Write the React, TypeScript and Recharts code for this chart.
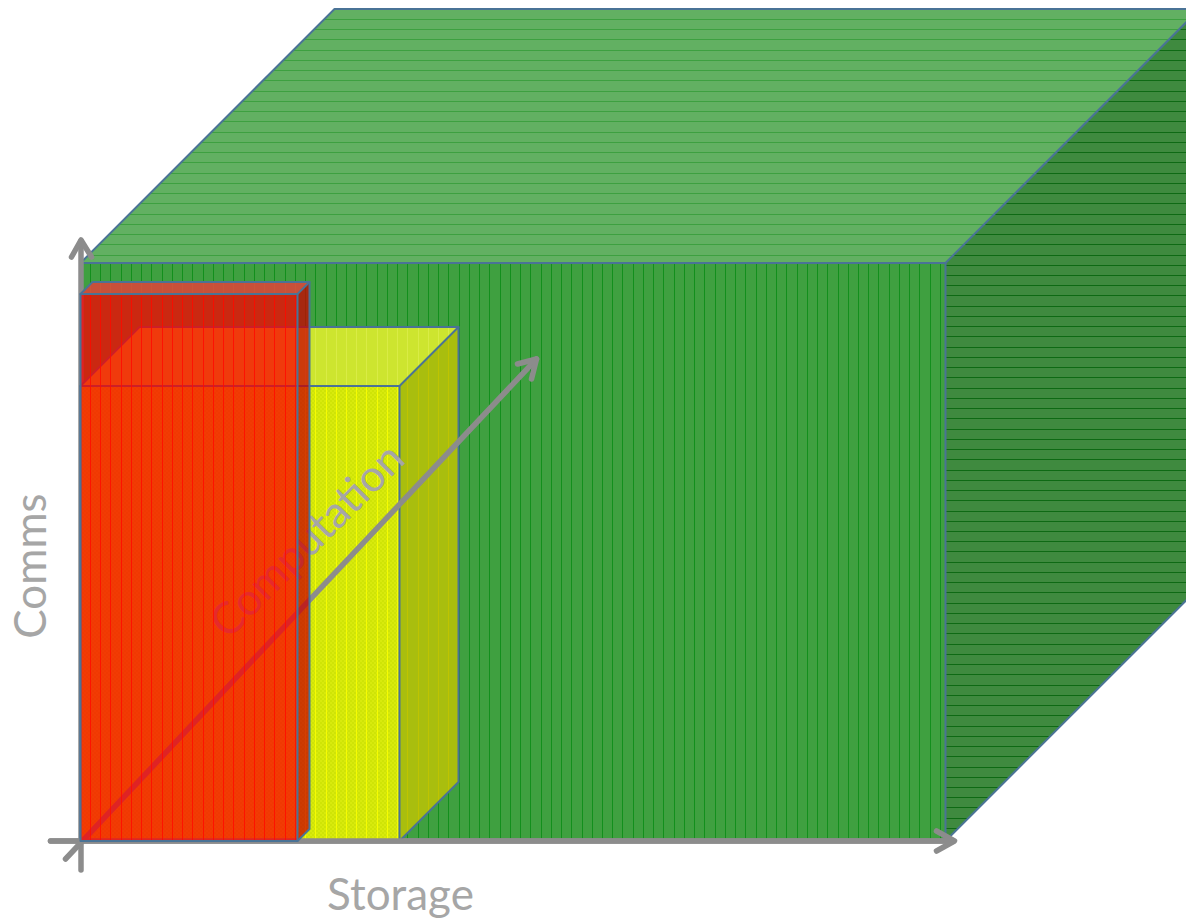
import React from "react";
import { ComposedChart, Area, Line, XAxis, YAxis, ReferenceDot } from "recharts";

// Extent of each resource box along the three axes.
const boxNames = ["ample", "moderate", "scarce"];
const storageValues = [865, 319, 217];
const commsValues = [578, 455, 547];
const computationValues = [254, 59, 12];

// Axis shafts and arrow heads, in the same units as the boxes.
const storageAxis = [{ x: -30, y: 0 }, { x: 872, y: 0 }];
const storageHead = [{ x: 856, y: 10 }, { x: 874, y: 0 }, { x: 856, y: -10 }];
const commsAxis = [{ x: 0.5, y: -29 }, { x: 0.5, y: 600 }];
const commsHead = [{ x: -9, y: 584 }, { x: 0.5, y: 601 }, { x: 11, y: 584 }];
const computationAxis = [{ x: -15, y: -18 }, { x: 456, y: 482 }];
const computationHead = [{ x: 437, y: 477 }, { x: 456, y: 482 }, { x: 451, y: 462 }];

const axisLabels = [
  { text: "Storage", x: 320, y: -53, angle: 0 },
  { text: "Comms", x: -50, y: 275, angle: -90 },
  { text: "Computation", x: 226, y: 301, angle: -45 },
];

const EDGE = "#4A7396";
const AXIS = "#8C8C8C";
const LABEL = "#A6A6A6";
const AXIS_WIDTH = 5.5;

type Skin = { front: string; top: string; side: string; opacity: number };
const skins: Skin[] = [
  { front: "#3FA040", top: "#62B062", side: "#3F8A3F", opacity: 1 },
  { front: "#CFE406", top: "#CDE52F", side: "#A9BE0E", opacity: 1 },
  { front: "#FB0002", top: "#F73538", side: "#CB0000", opacity: 0.75 },
];
const stripeSkins = [
  { front: "gFront", top: "gTop", side: "gSide" },
  { front: "yFront", top: "yTop", side: "ySide" },
  { front: "rFront", top: "rTop", side: null as string | null },
];

const frontFace = (s: number, c: number) => [
  { x: 0, range: [0, c] },
  { x: s, range: [0, c] },
];
const topFace = (s: number, c: number, d: number) => [
  { x: 0, range: [c, c] },
  { x: d, range: [c, c + d] },
  { x: s, range: [c, c + d] },
  { x: s + d, range: [c + d, c + d] },
];
const sideFace = (s: number, c: number, d: number) => [
  { x: s, range: [0, c] },
  { x: s + d, range: [d, c + d] },
];
const outlines = (s: number, c: number, d: number) => [
  [{ x: 0, y: 0 }, { x: s, y: 0 }, { x: s, y: c }, { x: 0, y: c }, { x: 0, y: 0 }],
  [{ x: 0, y: c }, { x: d, y: c + d }, { x: s + d, y: c + d }, { x: s, y: c }],
  [{ x: s + d, y: c + d }, { x: s + d, y: d }, { x: s, y: 0 }],
];

let layer = 1;
const nextLayer = () => layer++;

const faceArea = (key: string, data: object[], fill: string, opacity = 1) => (
  <Area
    key={key}
    data={data}
    dataKey="range"
    type="linear"
    fill={fill}
    fillOpacity={opacity}
    stroke="none"
    dot={false}
    activeDot={false}
    isAnimationActive={false}
    zIndex={nextLayer()}
  />
);

const polyline = (key: string, data: object[], stroke: string, width: number) => (
  <Line
    key={key}
    data={data}
    dataKey="y"
    type="linear"
    stroke={stroke}
    strokeWidth={width}
    strokeLinecap="round"
    strokeLinejoin="round"
    dot={false}
    activeDot={false}
    isAnimationActive={false}
    zIndex={nextLayer()}
  />
);

const drawBox = (i: number) => {
  const s = storageValues[i];
  const c = commsValues[i];
  const d = computationValues[i];
  const skin = skins[i];
  const stripes = stripeSkins[i];
  const name = boxNames[i];
  const items = [
    faceArea(`${name}-top`, topFace(s, c, d), skin.top, skin.opacity),
    faceArea(`${name}-top-lines`, topFace(s, c, d), `url(#${stripes.top})`),
    faceArea(`${name}-side`, sideFace(s, c, d), skin.side, skin.opacity),
    faceArea(`${name}-front`, frontFace(s, c), skin.front, skin.opacity),
  ];
  if (stripes.side) items.push(faceArea(`${name}-side-lines`, sideFace(s, c, d), `url(#${stripes.side})`));
  if (i === 1) items.push(faceArea(`${name}-grain`, frontFace(s, c), "url(#grain)"));
  items.push(faceArea(`${name}-front-lines`, frontFace(s, c), `url(#${stripes.front})`));
  outlines(s, c, d).forEach((pts, k) => items.push(polyline(`${name}-edge-${k}`, pts, EDGE, 2)));
  return items;
};

// Hatch tiles repeat every 50 strokes so each stroke stays on a whole pixel.
const HATCH_TILE = 512;
const HATCH_STEP = 10.24;
const hatchOffsets = Array.from({ length: 50 }, (_, n) => Math.round(n * HATCH_STEP));

const stripeTile = (id: string, vertical: boolean, color: string, opacity: number) => (
  <pattern
    key={id}
    id={id}
    patternUnits="userSpaceOnUse"
    x={vertical ? 90 : 0}
    y={vertical ? 0 : 19}
    width={HATCH_TILE}
    height={HATCH_TILE}
  >
    {hatchOffsets.map((o) =>
      vertical ? (
        <rect key={o} x={o} y={0} width={1} height={HATCH_TILE} fill={color} fillOpacity={opacity} />
      ) : (
        <rect key={o} x={0} y={o} width={HATCH_TILE} height={1} fill={color} fillOpacity={opacity} />
      ),
    )}
  </pattern>
);

const axisLabel = (l: (typeof axisLabels)[number]) => {
  const z = nextLayer();
  return (
    <ReferenceDot
      key={l.text}
      x={l.x}
      y={l.y}
      r={0}
      fill="none"
      stroke="none"
      ifOverflow="visible"
      zIndex={z}
      label={{
        value: l.text,
        position: "center",
        angle: l.angle,
        fill: LABEL,
        fontSize: 44,
        fontFamily: "Lato, 'Open Sans', sans-serif",
        zIndex: z,
      }}
    />
  );
};

export default function App() {
  layer = 1;
  return (
    <div style={{ position: "absolute", left: 0, top: 0, width: 1186, height: 919, background: "#fff" }}>
      <ComposedChart width={1186} height={919} margin={{ top: 0, right: 0, bottom: 0, left: 0 }}>
        <defs>
          {stripeTile("gFront", true, "#128F1C", 1)}
          {stripeTile("gTop", false, "#3DA040", 1)}
          {stripeTile("gSide", false, "#0E6A14", 1)}
          {stripeTile("yFront", true, "#F6FC00", 1)}
          {stripeTile("yTop", true, "#D9EC45", 1)}
          {stripeTile("ySide", true, "#BFC400", 1)}
          {stripeTile("rFront", true, "#FF0A00", 0.85)}
          {stripeTile("rTop", true, "#D86040", 0.5)}
          <pattern id="grain" patternUnits="userSpaceOnUse" width={4} height={4}>
            <rect x={0} y={0} width={2} height={2} fill="#E0EE12" fillOpacity={0.55} />
            <rect x={2} y={2} width={2} height={2} fill="#E0EE12" fillOpacity={0.55} />
          </pattern>
        </defs>
        <XAxis type="number" dataKey="x" domain={[-80.5, 1105.5]} allowDataOverflow hide />
        <YAxis type="number" domain={[-78, 841]} allowDataOverflow hide />

        {drawBox(0)}
        {polyline("storage-axis", storageAxis, AXIS, AXIS_WIDTH)}
        {polyline("storage-head", storageHead, AXIS, AXIS_WIDTH)}
        {polyline("comms-axis", commsAxis, AXIS, AXIS_WIDTH)}
        {polyline("comms-head", commsHead, AXIS, AXIS_WIDTH)}
        {drawBox(1)}
        {polyline("storage-axis-over", storageAxis, AXIS, AXIS_WIDTH)}
        {polyline("computation-axis", computationAxis, AXIS, AXIS_WIDTH)}
        {polyline("computation-head", computationHead, AXIS, AXIS_WIDTH)}
        {axisLabels.map(axisLabel)}
        {drawBox(2)}
      </ComposedChart>
    </div>
  );
}
